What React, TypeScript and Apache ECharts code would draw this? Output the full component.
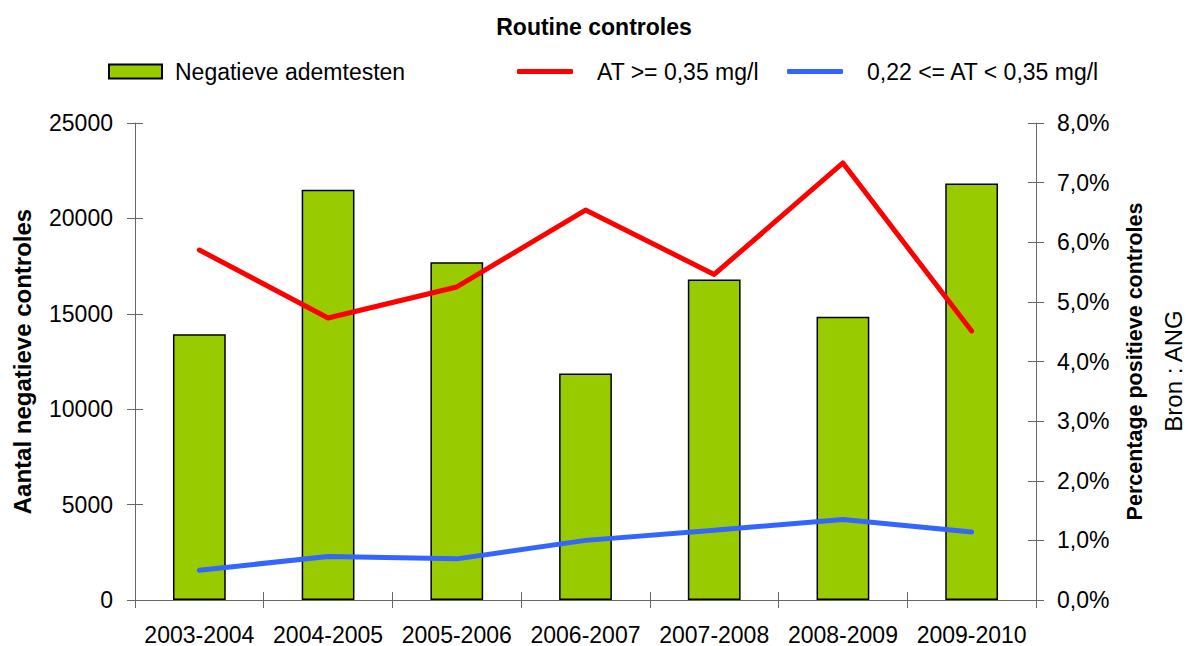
import React, { useEffect, useRef } from "react";
import * as echarts from "echarts";

const categories = ["2003-2004", "2004-2005", "2005-2006", "2006-2007", "2007-2008", "2008-2009", "2009-2010"];
const negatieveAdemtesten = [13930, 21500, 17700, 11870, 16800, 14840, 21830];
const atHigh = [5.87, 4.73, 5.25, 6.54, 5.46, 7.33, 4.51];
const atMid = [0.5, 0.73, 0.69, 1.0, 1.17, 1.35, 1.14];

const FONT = "Liberation Sans, Arial, sans-serif";
const AXIS_COLOR = "#666666";

export default function App() {
  const ref = useRef<HTMLDivElement>(null);
  useEffect(() => {
    if (!ref.current) return;
    const chart = echarts.init(ref.current, undefined, { renderer: "svg" });
    const pct = (v: number) => v.toFixed(1).replace(".", ",") + "%";
    chart.setOption({
      animation: false,
      backgroundColor: "#ffffff",
      textStyle: { fontFamily: FONT, color: "#000" },
      title: {
        text: "Routine controles",
        left: "center",
        top: 10,
        textStyle: { fontFamily: FONT, fontSize: 23, fontWeight: "bold", color: "#000" },
      },
      legend: [
        {
          left: 108,
          top: 60,
          padding: 0,
          itemWidth: 53,
          itemHeight: 14,
          icon: "rect",
          data: ["Negatieve ademtesten"],
          textStyle: { fontFamily: FONT, fontSize: 23, color: "#000", padding: [0, 0, 0, 8] },
        },
        {
          left: 517,
          top: 60,
          padding: 0,
          itemWidth: 56,
          itemHeight: 5,
          icon: "roundRect",
          data: ["AT >= 0,35 mg/l"],
          textStyle: { fontFamily: FONT, fontSize: 23, color: "#000", padding: [0, 0, 0, 19] },
        },
        {
          left: 787,
          top: 60,
          padding: 0,
          itemWidth: 56,
          itemHeight: 5,
          icon: "roundRect",
          data: ["0,22 <= AT < 0,35 mg/l"],
          textStyle: { fontFamily: FONT, fontSize: 23, color: "#000", padding: [0, 0, 0, 19] },
        },
      ],
      grid: { left: 135, right: 152, top: 123, bottom: 46, containLabel: false },
      xAxis: [
        {
          type: "category",
          data: categories,
          position: "bottom",
          axisLine: { lineStyle: { color: AXIS_COLOR, width: 1 } },
          axisTick: { show: true, length: 8, inside: false, lineStyle: { color: AXIS_COLOR } },
          axisLabel: { fontFamily: FONT, fontSize: 23, color: "#000", margin: 23, interval: 0 },
        },
        {
          type: "category",
          data: categories,
          position: "bottom",
          axisLine: { show: false },
          axisTick: { show: true, length: 8, inside: true, lineStyle: { color: AXIS_COLOR } },
          axisLabel: { show: false },
        },
      ],
      yAxis: [
        {
          type: "value",
          position: "left",
          min: 0,
          max: 25000,
          interval: 5000,
          name: "Aantal negatieve controles",
          nameLocation: "middle",
          nameGap: 101,
          nameTextStyle: { fontFamily: FONT, fontSize: 24, fontWeight: "bold", color: "#000" },
          axisLine: { show: true, lineStyle: { color: AXIS_COLOR, width: 1 } },
          axisTick: { show: true, length: 8, lineStyle: { color: AXIS_COLOR } },
          axisLabel: { fontFamily: FONT, fontSize: 23, color: "#000", margin: 22, formatter: (v: number) => String(v) },
          splitLine: { show: false },
        },
        {
          type: "value",
          position: "left",
          min: 0,
          max: 25000,
          interval: 5000,
          axisLine: { show: false },
          axisTick: { show: true, inside: true, length: 8, lineStyle: { color: AXIS_COLOR } },
          axisLabel: { show: false },
          splitLine: { show: false },
        },
        {
          type: "value",
          position: "right",
          min: 0,
          max: 8,
          interval: 1,
          name: "Percentage positieve controles",
          nameLocation: "middle",
          nameGap: 88,
          nameRotate: 90,
          nameTextStyle: { fontFamily: FONT, fontSize: 21.5, fontWeight: "bold", color: "#000" },
          axisLine: { show: true, lineStyle: { color: AXIS_COLOR, width: 1 } },
          axisTick: { show: true, length: 8, lineStyle: { color: AXIS_COLOR } },
          axisLabel: { fontFamily: FONT, fontSize: 23, color: "#000", margin: 21, formatter: pct },
          splitLine: { show: false },
        },
        {
          type: "value",
          position: "right",
          min: 0,
          max: 8,
          interval: 1,
          axisLine: { show: false },
          axisTick: { show: true, inside: true, length: 8, lineStyle: { color: AXIS_COLOR } },
          axisLabel: { show: false },
          splitLine: { show: false },
        },
      ],
      graphic: [
        {
          type: "text",
          x: 1173,
          y: 371,
          rotation: Math.PI / 2,
          style: {
            text: "Bron : ANG",
            fontFamily: FONT,
            fontSize: 24,
            fill: "#000",
            textAlign: "center",
            textVerticalAlign: "middle",
          },
        },
      ],
      series: [
        {
          name: "Negatieve ademtesten",
          type: "bar",
          xAxisIndex: 0,
          yAxisIndex: 0,
          data: negatieveAdemtesten,
          barWidth: "41%",
          itemStyle: { color: "#99cc00", borderColor: "#000", borderWidth: 1.5 },
          z: 2,
        },
        {
          name: "AT >= 0,35 mg/l",
          type: "line",
          xAxisIndex: 0,
          yAxisIndex: 2,
          data: atHigh,
          showSymbol: false,
          symbol: "none",
          color: "#ff0000",
          lineStyle: { color: "#ff0000", width: 5, cap: "round", join: "round" },
          z: 3,
        },
        {
          name: "0,22 <= AT < 0,35 mg/l",
          type: "line",
          xAxisIndex: 0,
          yAxisIndex: 2,
          data: atMid,
          showSymbol: false,
          symbol: "none",
          color: "#3366ff",
          lineStyle: { color: "#3366ff", width: 5, cap: "round", join: "round" },
          z: 3,
        },
      ],
    });
    return () => chart.dispose();
  }, []);
  return (
    <div
      ref={ref}
      style={{ position: "absolute", left: 0, top: 0, width: 1188, height: 646, background: "#fff" }}
    />
  );
}
